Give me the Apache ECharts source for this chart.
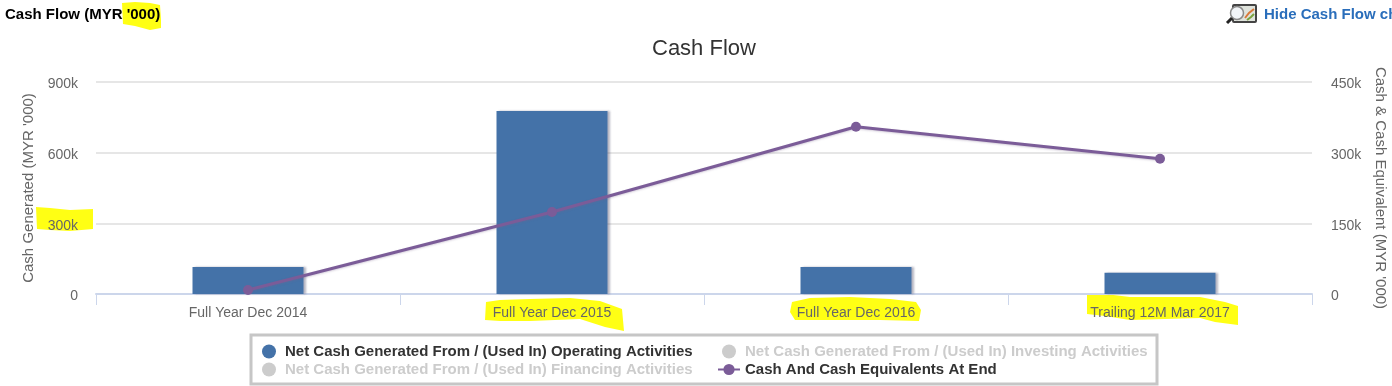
<!DOCTYPE html>
<html>
<head>
<meta charset="utf-8">
<style>
  html, body { margin: 0; padding: 0; background: #fff; }
  #chart { width: 1392px; height: 386px; }
</style>
</head>
<body>
<div id="chart"></div>
<script src="https://cdn.jsdelivr.net/npm/echarts@6/dist/echarts.min.js"></script>
<script>
const categories = ['Full Year Dec 2014', 'Full Year Dec 2015', 'Full Year Dec 2016', 'Trailing 12M Mar 2017']
const operating = [115000, 777000, 115000, 90000]
const cashAtEnd = [8500, 174000, 355000, 287000]
const investing = []
const financing = []

const OPERATING = 'Net Cash Generated From / (Used In) Operating Activities'
const INVESTING = 'Net Cash Generated From / (Used In) Investing Activities'
const FINANCING = 'Net Cash Generated From / (Used In) Financing Activities'
const CASH = 'Cash And Cash Equivalents At End'

const font = '"Liberation Sans", Arial, sans-serif'
const yellow = '#ffff14'

const kFormat = v => v === 0 ? '0' : (v / 1000) + 'k'

// marker scribbles from the reference, behind the text
const marker = pts => ({
  type: 'polygon',
  z: -10,
  silent: true,
  shape: { points: pts },
  style: { fill: yellow }
})

const chart = echarts.init(document.getElementById('chart'))
chart.setOption({
  animation: false,
  backgroundColor: '#fff',
  textStyle: { fontFamily: font },
  title: [
    { text: 'Cash Flow', left: 647, top: 33, textStyle: { fontFamily: font, fontSize: 22, fontWeight: 'normal', color: '#333' } },
    { text: "Cash Flow (MYR '000)", left: 0, top: 2, textStyle: { fontFamily: font, fontSize: 15, fontWeight: 'bold', color: '#000' } },
    { text: 'Hide Cash Flow chart', left: 1259, top: 2, textStyle: { fontFamily: font, fontSize: 15, fontWeight: 'bold', color: '#2a6ebb' } }
  ],
  grid: { left: 96, right: 80, top: 82, height: 212, outerBoundsMode: 'none' },
  legend: [
    {
      orient: 'vertical', left: 262, top: 344, padding: 0, itemGap: 3, itemWidth: 22, itemHeight: 14,
      data: [{ name: OPERATING, icon: 'circle' }, { name: FINANCING, icon: 'circle' }],
      selected: { [FINANCING]: false },
      inactiveColor: '#ccc',
      textStyle: { fontFamily: font, fontSize: 15, fontWeight: 'bold', color: '#333' }
    },
    {
      orient: 'vertical', left: 717, top: 344, padding: 0, itemGap: 3, itemWidth: 22, itemHeight: 14,
      data: [{ name: INVESTING, icon: 'circle' }, { name: CASH }],
      selected: { [INVESTING]: false },
      inactiveColor: '#ccc',
      textStyle: { fontFamily: font, fontSize: 15, fontWeight: 'bold', color: '#333' }
    }
  ],
  xAxis: {
    type: 'category',
    data: categories,
    axisLine: { lineStyle: { color: '#ccd6eb', width: 2 } },
    axisTick: { show: true, length: 11, lineStyle: { color: '#ccd6eb' } },
    axisLabel: { color: '#666', fontSize: 14, margin: 12, fontFamily: font }
  },
  yAxis: [
    {
      type: 'value', min: 0, max: 900000, interval: 300000,
      name: "Cash Generated (MYR '000)", nameLocation: 'middle', nameRotate: 90, nameGap: 59,
      nameTextStyle: { color: '#666', fontSize: 15, fontFamily: font },
      axisLine: { show: false }, axisTick: { show: false },
      splitLine: { lineStyle: { color: '#e6e6e6', width: 2 } },
      axisLabel: { color: '#666', fontSize: 14, margin: 18, verticalAlign: 'top', lineHeight: 5, formatter: kFormat, fontFamily: font }
    },
    {
      type: 'value', min: 0, max: 450000, interval: 150000,
      name: "Cash & Cash Equivalent (MYR '000)", nameLocation: 'middle', nameRotate: -90, nameGap: 61,
      nameTextStyle: { color: '#666', fontSize: 15, fontFamily: font },
      axisLine: { show: false }, axisTick: { show: false },
      splitLine: { show: false },
      axisLabel: { color: '#666', fontSize: 14, margin: 19, verticalAlign: 'top', lineHeight: 5, formatter: kFormat, fontFamily: font }
    }
  ],
  series: [
    {
      name: OPERATING, type: 'bar', data: operating, barWidth: 111,
      itemStyle: { color: '#4472a8', shadowColor: 'rgba(90,90,120,0.45)', shadowBlur: 2, shadowOffsetX: 2, shadowOffsetY: 0 }
    },
    { name: INVESTING, type: 'bar', data: investing, itemStyle: { color: '#ccc' } },
    { name: FINANCING, type: 'bar', data: financing, itemStyle: { color: '#ccc' } },
    {
      name: CASH, type: 'line', yAxisIndex: 1, data: cashAtEnd,
      symbol: 'circle', symbolSize: 10,
      itemStyle: { color: '#7b5c98' },
      lineStyle: { color: '#7b5c98', width: 3, shadowColor: 'rgba(120,100,140,0.3)', shadowBlur: 2, shadowOffsetY: 1 }
    }
  ],
  graphic: [
    marker([[122, 3], [135, 2], [150, 3], [160, 5], [161, 20], [161, 28], [150, 30], [135, 26], [123, 24]]),
    marker([[36, 207], [50, 208], [70, 210], [93, 209], [93, 229], [70, 231], [50, 230], [37, 229]]),
    marker([[486, 302], [500, 300], [530, 299], [570, 298], [600, 301], [622, 309], [624, 331], [605, 327], [580, 319], [530, 321], [500, 321], [485, 320]]),
    marker([[792, 302], [810, 298], [850, 297], [890, 299], [916, 302], [921, 310], [919, 321], [880, 320], [830, 320], [795, 320], [790, 312]]),
    marker([[1087, 293], [1105, 294], [1130, 297], [1200, 297], [1225, 302], [1238, 306], [1238, 325], [1215, 322], [1200, 318], [1130, 320], [1105, 316], [1087, 314]]),
    {
      type: 'rect', z: -5, silent: true,
      shape: { x: 251, y: 335, width: 906, height: 49 },
      style: { fill: '#fff', stroke: '#c6c6c6', lineWidth: 3 }
    },
    // magnifier + chart button next to the hide link
    {
      type: 'group', silent: true, children: [
        { type: 'rect', shape: { x: 1233, y: 5, width: 23, height: 17, r: 1 }, style: { fill: '#dfe3dc', stroke: '#444', lineWidth: 2 } },
        { type: 'polyline', shape: { points: [[1245, 18], [1249, 13], [1254, 9]] }, style: { fill: 'none', stroke: '#d9793a', lineWidth: 2 } },
        { type: 'polyline', shape: { points: [[1247, 20], [1251, 17], [1254, 14]] }, style: { fill: 'none', stroke: '#7aa33e', lineWidth: 2 } },
        { type: 'circle', shape: { cx: 1237, cy: 13, r: 6.5 }, style: { fill: '#f2f5f8', stroke: '#8a8a8a', lineWidth: 1.5 } },
        { type: 'line', shape: { x1: 1232, y1: 18, x2: 1227, y2: 23 }, style: { stroke: '#222', lineWidth: 3 } }
      ]
    }
  ]
})
</script>
</body>
</html>
